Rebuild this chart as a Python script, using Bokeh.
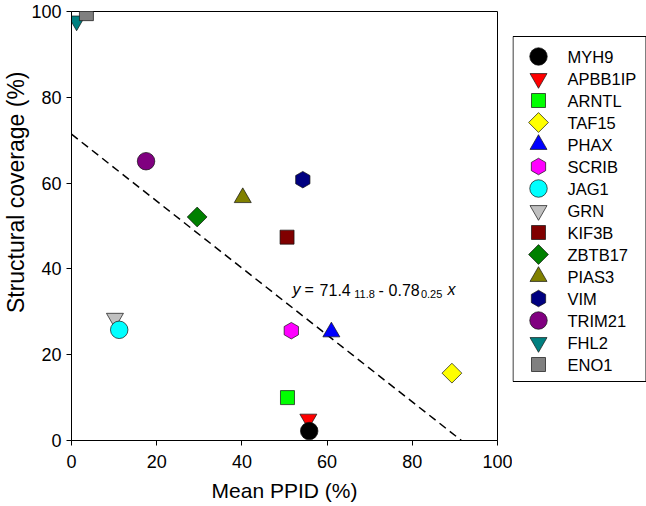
import math
from bokeh.plotting import figure
from bokeh.models import Range1d, Label, ColumnDataSource, FixedTicker, Title
from bokeh.layouts import row
from bokeh.core.properties import value
from bokeh.embed import file_html
from bokeh.resources import INLINE

# ---------------- data ----------------
genes = ["MYH9", "APBB1IP", "ARNTL", "TAF15", "PHAX", "SCRIB", "JAG1", "GRN",
         "KIF3B", "ZBTB17", "PIAS3", "VIM", "TRIM21", "FHL2", "ENO1"]
mean_ppid = [55.8, 55.6, 50.7, 89.3, 61.0, 51.6, 11.2, 10.2,
             50.6, 29.5, 40.2, 54.3, 17.5, 1.2, 3.5]
coverage = [2.2, 5.0, 10.0, 15.7, 25.3, 25.6, 25.8, 28.5,
            47.4, 52.1, 56.6, 60.8, 65.1, 97.8, 99.5]
intercept, intercept_se = 71.4, 11.8
slope, slope_se = -0.78, 0.25
ticks = [0, 20, 40, 60, 80, 100]

# ---------------- styles ----------------
fill_colors = ["#000000", "#ff0000", "#00ff00", "#ffff00", "#0000ff", "#ff00ff",
               "#00ffff", "#c0c0c0", "#800000", "#008000", "#808000", "#000080",
               "#800080", "#008080", "#808080"]
shapes = ["circle", "inverted_triangle", "square", "diamond", "triangle", "hexagon"] * 2 + \
         ["circle", "inverted_triangle", "square"]
shape_style = {
    "circle": ("circle", 17.5, 0.0),
    "inverted_triangle": ("inverted_triangle", 17, 0.0),
    "square": ("square", 14, 0.0),
    "diamond": ("square", 14, math.pi / 4),
    "triangle": ("triangle", 17, 0.0),
    "hexagon": ("hex", 16.5, math.pi / 2),
}
FONT = "Liberation Sans"
draw_order = [13, 14] + list(range(12, -1, -1))

def style_cols(idx):
    return dict(
        marker=[shape_style[shapes[i]][0] for i in idx],
        size=[shape_style[shapes[i]][1] for i in idx],
        angle=[shape_style[shapes[i]][2] for i in idx],
        fill=[fill_colors[i] for i in idx],
    )

H = 504
B_TOP, B_BOTTOM = 11, 64
FRAME_H = H - B_TOP - B_BOTTOM

# ---------------- main plot ----------------
p = figure(width=512, height=H, output_backend="svg", toolbar_location=None,
           x_range=Range1d(0, 100), y_range=Range1d(0, 100),
           min_border_left=67, min_border_right=15,
           min_border_top=B_TOP, min_border_bottom=B_BOTTOM)
p.background_fill_color = "white"
p.border_fill_color = "white"
p.outline_line_color = "black"
p.outline_line_width = 1
p.grid.visible = False

for ax in (p.xaxis, p.yaxis):
    ax.ticker = FixedTicker(ticks=ticks)
    ax.major_tick_out = 5
    ax.major_tick_in = 0
    ax.minor_tick_line_color = None
    ax.axis_line_color = "black"
    ax.major_tick_line_color = "black"
    ax.major_label_text_font = FONT
    ax.major_label_text_font_size = "18px"
    ax.major_label_text_color = "black"
    ax.major_label_standoff = 5
p.xaxis.major_label_standoff = 9

p.xaxis.axis_label = "Mean PPID (%)"
p.xaxis.axis_label_text_font = FONT
p.xaxis.axis_label_text_font_size = "21px"
p.xaxis.axis_label_text_font_style = "normal"
p.xaxis.axis_label_text_color = "black"
p.xaxis.axis_label_standoff = 8

ytitle = Title(text="Structural coverage (%)", align="right", offset=60,
               text_font=FONT, text_font_size="23px", text_font_style="normal",
               text_color="black", standoff=0)
p.add_layout(ytitle, "left")

# regression line
x_end = -intercept / slope
p.line(x=[0, x_end], y=[intercept, intercept + slope * x_end],
       line_color="black", line_width=1.5, line_dash="8 5")

# points
src = ColumnDataSource(dict(
    x=[mean_ppid[i] for i in draw_order],
    y=[coverage[i] for i in draw_order],
    **style_cols(draw_order)))
p.scatter(x="x", y="y", marker="marker", size="size", angle="angle", source=src,
          fill_color="fill", line_color="#111111", line_width=0.7)

# equation
eq_x, eq_y = 51.9, 35.1
pieces = [
    ("y", 0, 0, "16px", "italic"),
    ("=", 12, 0, "16px", "normal"),
    (f"{intercept:.1f}", 27, 0, "16px", "normal"),
    (f"{intercept_se:.1f}", 61.7, -4, "11px", "normal"),
    ("-", 86, 0, "16px", "normal"),
    (f"{abs(slope):.2f}", 96, 0, "16px", "normal"),
    (f"{slope_se:.2f}", 128.3, -4, "11px", "normal"),
    ("x", 155, 0, "16px", "italic"),
]
for txt, xo, yo, fs, st in pieces:
    p.add_layout(Label(x=eq_x, y=eq_y, x_offset=xo, y_offset=yo, text=txt,
                       text_font=FONT, text_font_size=fs, text_font_style=st,
                       text_baseline="alphabetic", text_align="left", text_color="black"))

# ---------------- legend panel ----------------
LW = 134
row_h = 22
first_row = 45      # px from frame top to first entry centre
box_top_px, box_bottom_px = 25, 370   # px from frame top
lg = figure(width=LW, height=H, output_backend="svg", toolbar_location=None,
            x_axis_type=None, y_axis_type=None,
            x_range=Range1d(0, LW),
            y_range=Range1d((FRAME_H - first_row) / row_h, -first_row / row_h),
            min_border_left=0, min_border_right=0,
            min_border_top=B_TOP, min_border_bottom=B_BOTTOM)
lg.grid.visible = False
lg.outline_line_color = None
lg.background_fill_color = "white"
lg.border_fill_color = "white"

lg.quad(left=[0.5], right=[LW - 0.5],
        top=[(box_top_px - first_row) / row_h],
        bottom=[(box_bottom_px - first_row) / row_h],
        fill_color=None, line_color="black", line_width=1)

idx = list(range(len(genes)))
lsrc = ColumnDataSource(dict(
    x=[26] * len(genes), tx=[55] * len(genes), y=idx, name=genes, **style_cols(idx)))
lg.scatter(x="x", y="y", marker="marker", size="size", angle="angle", source=lsrc,
           fill_color="fill", line_color="#111111", line_width=0.7)
lg.text(x="tx", y="y", text="name", source=lsrc, text_font=value(FONT),
        text_font_size="16.5px", text_baseline="middle", text_align="left",
        text_color="black")

layout = row(p, lg)
open("out.html", "w").write(file_html(layout, INLINE))
